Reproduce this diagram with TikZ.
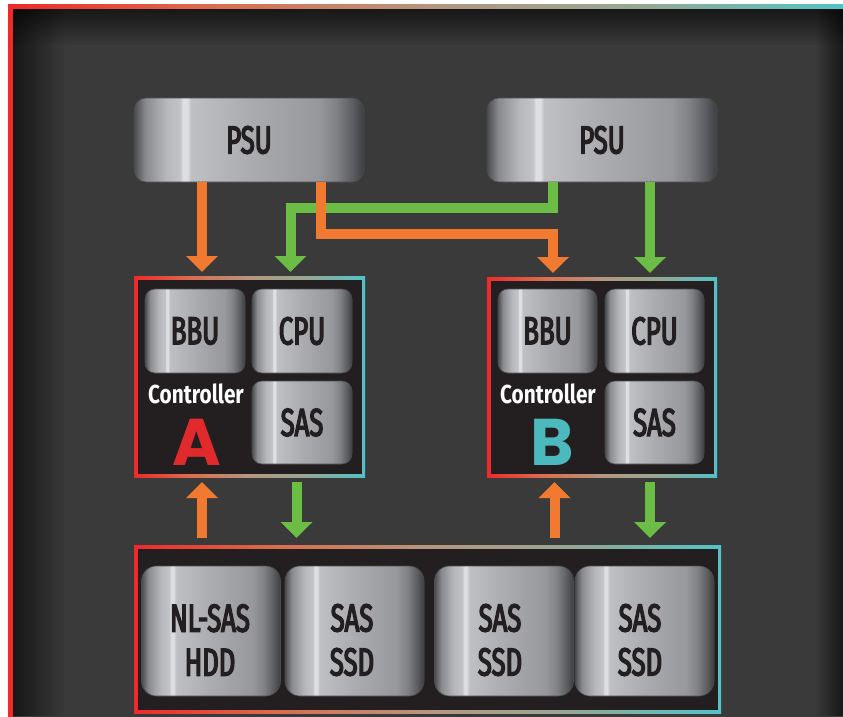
\documentclass[tikz,border=0pt]{standalone}
\usepackage{fontspec}
\usetikzlibrary{arrows.meta,fadings}
\newfontfamily\labfont[FakeStretch=0.66, FakeBold=3.5]{Fira Sans}
\newfontfamily\ctlfont[FakeStretch=0.8]{Fira Sans}
\newfontfamily\geofont{Poppins}
\definecolor{bgdark}{HTML}{3A3A3A}
\definecolor{boxfill}{HTML}{231F20}
\definecolor{txtdark}{HTML}{231F20}
\definecolor{orangeA}{HTML}{F27930}
\definecolor{greenA}{HTML}{6CBD45}
\definecolor{redA}{HTML}{E02A2C}
\definecolor{tealA}{HTML}{4CB9BE}
\definecolor{mA}{HTML}{4A4B4E}
\definecolor{mB}{HTML}{8A8B8E}
\definecolor{mC}{HTML}{B6B7BA}
\definecolor{mD}{HTML}{C3C4C7}
\definecolor{mE}{HTML}{DEDFE2}
\definecolor{mF}{HTML}{BFC0C3}
\definecolor{mG}{HTML}{ABACAF}
\definecolor{mH}{HTML}{97989B}
\definecolor{mI}{HTML}{808184}
\definecolor{mJ}{HTML}{5C5D60}
\definecolor{mK}{HTML}{3C3D40}
\definecolor{fA}{HTML}{EE2A2A}
\definecolor{fB}{HTML}{DA6E4F}
\definecolor{fC}{HTML}{B5967E}
\definecolor{fD}{HTML}{95A894}
\definecolor{fE}{HTML}{50C3C8}
\pgfdeclarehorizontalshading{metal}{100bp}{color(0bp)=(mA); color(25bp)=(mA); color(27.5bp)=(mB); color(32bp)=(mC); color(35bp)=(mD); color(35.6bp)=(mE); color(36.6bp)=(mE); color(37.4bp)=(mF); color(50bp)=(mG); color(65bp)=(mH); color(69bp)=(mI); color(72.5bp)=(mJ); color(75bp)=(mK); color(100bp)=(mK)}
\pgfdeclarehorizontalshading{rainbow}{100bp}{color(0bp)=(fA); color(25bp)=(fA); color(37.5bp)=(fB); color(50bp)=(fC); color(62.5bp)=(fD); color(75bp)=(fE); color(100bp)=(fE)}
\tikzfading[name=fadeR, left color=transparent!0, right color=transparent!100]
\tikzfading[name=fadeL, left color=transparent!100, right color=transparent!0]
\tikzfading[name=fadeD, top color=transparent!0, bottom color=transparent!100]
\tikzset{
  labtext/.style={text=txtdark, font=\labfont\fontsize{39}{44}\selectfont, align=center, inner sep=0pt},
  metalbox/.style={shade, shading=metal, draw=black!70, line width=0.6pt, rounded corners=#1, inner sep=0pt, labtext},
  gframe/.style={shade, shading=rainbow, inner sep=0pt, outer sep=0pt},
  innerfill/.style={fill=boxfill, inner sep=0pt, outer sep=0pt},
  ctltext/.style={text=white, font=\ctlfont\bfseries\fontsize{26}{30}\selectfont, anchor=base, inner sep=0pt},
  bigletter/.style={font=\geofont\bfseries\fontsize{66}{70}\selectfont, anchor=base, inner sep=0pt},
  oarrow/.style={draw=orangeA, line width=10pt, -{Triangle[width=31pt,length=16pt]}},
  garrow/.style={draw=greenA, line width=10pt, -{Triangle[width=31pt,length=16pt]}}
}
\begin{document}
\begin{tikzpicture}[x=1pt,y=-1pt]
\useasboundingbox (0,0) rectangle (843,716);
\clip (0,0) rectangle (843,716);
\fill[white] (0,0) rectangle (843,716);
\shade[shading=rainbow] (8,4) rectangle (852,722);
\fill[bgdark] (13,9) rectangle (852,722);
\fill[black, path fading=fadeR, fill opacity=0.6] (13,9) rectangle (65,716);
\fill[black, path fading=fadeL, fill opacity=0.6] (815,9) rectangle (843,716);
\fill[black, path fading=fadeD, fill opacity=0.6] (13,9) rectangle (843,45);

% power supplies
\node[metalbox=12pt, minimum width=230pt, minimum height=84pt] (psuA) at (249,140) {PSU};
\node[metalbox=12pt, minimum width=230pt, minimum height=84pt] (psuB) at (602,140) {PSU};

% controller A
\node[gframe, minimum width=231pt, minimum height=201pt] (ctrlA) at (249.5,376.5) {};
\node[innerfill, minimum width=224pt, minimum height=194pt] (ctrlAin) at (ctrlA.center) {};
\node[metalbox=10pt, minimum width=100pt, minimum height=84pt] (bbuA) at (195,331) {BBU};
\node[metalbox=10pt, minimum width=100pt, minimum height=84pt] (cpuA) at (302,331) {CPU};
\node[metalbox=10pt, minimum width=100pt, minimum height=83pt] (sasA) at (302,422.5) {SAS};
\node[ctltext] (ctlA) at (196,403) {Controller};
\node[bigletter, text=redA] (letA) at (197,465) {A};

% controller B
\node[gframe, minimum width=230pt, minimum height=200pt] (ctrlB) at (602,377) {};
\node[innerfill, minimum width=223pt, minimum height=193pt] (ctrlBin) at (ctrlB.center) {};
\node[metalbox=10pt, minimum width=99pt, minimum height=84pt] (bbuB) at (547.5,331) {BBU};
\node[metalbox=10pt, minimum width=99pt, minimum height=84pt] (cpuB) at (654.5,331) {CPU};
\node[metalbox=10pt, minimum width=99pt, minimum height=83pt] (sasB) at (654.5,422.5) {SAS};
\node[ctltext] (ctlB) at (548,403) {Controller};
\node[bigletter, text=tealA] (letB) at (552,465) {B};

% storage
\node[gframe, minimum width=587pt, minimum height=168pt] (store) at (427.5,629) {};
\node[innerfill, minimum width=580pt, minimum height=161pt] (storein) at (store.center) {};
\node[metalbox=15pt, minimum width=139pt, minimum height=130pt] (d1) at (211,631) {};
\node[metalbox=15pt, minimum width=139pt, minimum height=130pt] (d2) at (354.5,631) {};
\node[metalbox=15pt, minimum width=139pt, minimum height=130pt] (d3) at (504,631) {};
\node[metalbox=15pt, minimum width=139pt, minimum height=130pt] (d4) at (644.5,631) {};
\node[labtext] (d1t) at (210,640) {NL-SAS\\HDD};
\node[labtext] (d2t) at (352,640) {SAS\\SSD};
\node[labtext] (d3t) at (500,640) {SAS\\SSD};
\node[labtext] (d4t) at (640,640) {SAS\\SSD};

% connector guide coordinates
\coordinate (xoA) at (202,0);
\coordinate (xoX) at (320.5,0);
\coordinate (xoB) at (553,0);
\coordinate (xgA) at (290.5,0);
\coordinate (xgX) at (552.5,0);
\coordinate (xgB) at (650,0);
\coordinate (ygh) at (0,207.5);
\coordinate (yoh) at (0,234);
\coordinate (xoA2) at (202,0);
\coordinate (xgA2) at (296.5,0);
\coordinate (xoB2) at (554.5,0);
\coordinate (xgB2) at (650,0);

% green feeds
\draw[garrow, shorten >=4pt] (psuB.south -| xgB) -- (ctrlB.north -| xgB);
\draw[garrow, shorten >=4pt] (psuB.south -| xgX) -- (xgX |- ygh) -- (xgA |- ygh) -- (ctrlA.north -| xgA);
% orange feeds
\draw[oarrow, shorten >=4pt] (psuA.south -| xoA) -- (ctrlA.north -| xoA);
\draw[oarrow, shorten >=4pt] (psuA.south -| xoX) -- (xoX |- yoh) -- (xoB |- yoh) -- (ctrlB.north -| xoB);

% controller <-> storage
\draw[oarrow, shorten <=7pt, shorten >=5pt] (store.north -| xoA2) -- (ctrlA.south -| xoA2);
\draw[garrow, shorten <=5pt, shorten >=7pt] (ctrlA.south -| xgA2) -- (store.north -| xgA2);
\draw[oarrow, shorten <=7pt, shorten >=5pt] (store.north -| xoB2) -- (ctrlB.south -| xoB2);
\draw[garrow, shorten <=5pt, shorten >=7pt] (ctrlB.south -| xgB2) -- (store.north -| xgB2);
\end{tikzpicture}
\end{document}
